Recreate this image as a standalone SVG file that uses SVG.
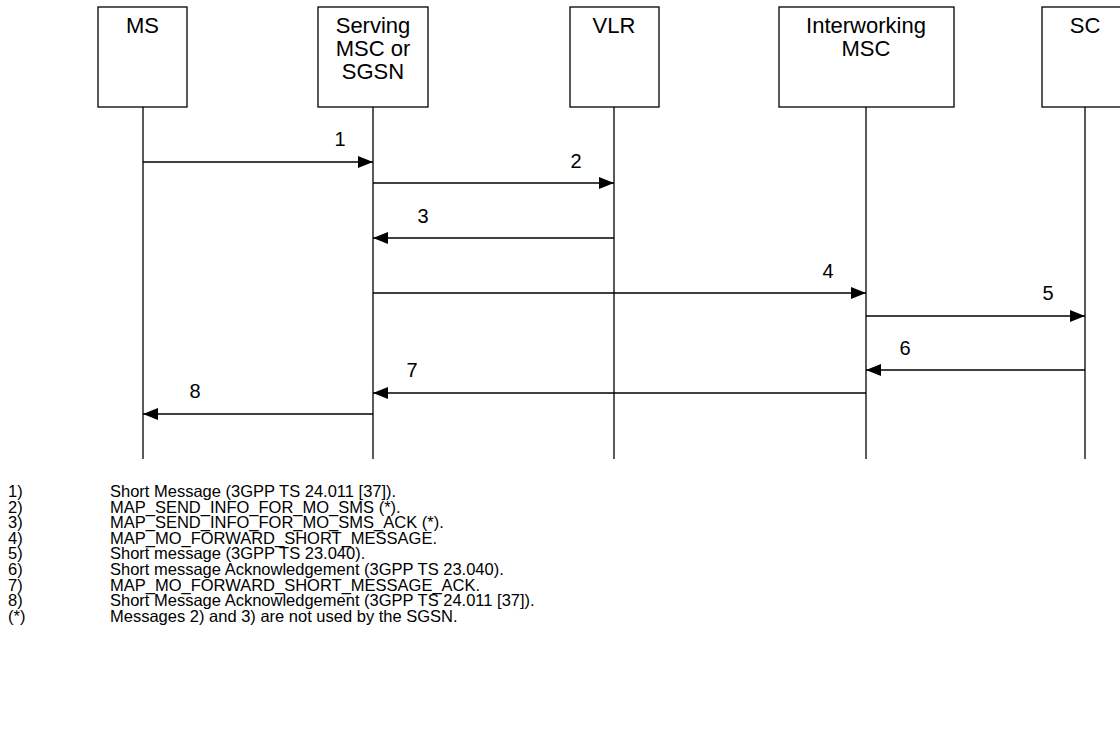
<svg xmlns="http://www.w3.org/2000/svg" width="1120" height="739" viewBox="0 0 1120 739">
<style>
.box{fill:#fff;stroke:#000;stroke-width:1.3}
.life{stroke:#000;stroke-width:1.3;fill:none}
.msg{stroke:#000;stroke-width:1.3;fill:none;marker-end:url(#ah)}
.lbl{font-family:"Liberation Sans",Arial,sans-serif;font-size:22px;fill:#000;text-anchor:middle}
.num{font-family:"Liberation Sans",Arial,sans-serif;font-size:20px;fill:#000;text-anchor:middle}
.lst{font-family:"Liberation Sans",Arial,sans-serif;font-size:16.5px;fill:#000}
</style>
<defs>
<marker id="ah" markerWidth="15" markerHeight="12" refX="15" refY="6" orient="auto" markerUnits="userSpaceOnUse">
<path d="M0,0 L15,6 L0,12 Z" fill="#000"/>
</marker>
</defs>
<rect width="1120" height="739" fill="#fff"/>
<g id="node-ms">
<rect class="box" x="98" y="7" width="89" height="100"/>
<text class="lbl" x="142.5" y="33">MS</text>
<line class="life" x1="143" y1="107" x2="143" y2="459"/>
</g>
<g id="node-serving">
<rect class="box" x="318" y="7" width="110" height="100"/>
<text class="lbl" x="373" y="33">Serving</text>
<text class="lbl" x="373" y="56">MSC or</text>
<text class="lbl" x="373" y="79">SGSN</text>
<line class="life" x1="373" y1="107" x2="373" y2="459"/>
</g>
<g id="node-vlr">
<rect class="box" x="570" y="7" width="89" height="100"/>
<text class="lbl" x="614" y="33">VLR</text>
<line class="life" x1="614" y1="107" x2="614" y2="459"/>
</g>
<g id="node-iwmsc">
<rect class="box" x="779" y="7" width="175" height="100"/>
<text class="lbl" x="866" y="33">Interworking</text>
<text class="lbl" x="866" y="56">MSC</text>
<line class="life" x1="866" y1="107" x2="866" y2="459"/>
</g>
<g id="node-sc">
<rect class="box" x="1042" y="7" width="90" height="100"/>
<text class="lbl" x="1085" y="33">SC</text>
<line class="life" x1="1085" y1="107" x2="1085" y2="459"/>
</g>
<g id="connectors">
<line class="msg" x1="143" y1="162" x2="373" y2="162"/>
<line class="msg" x1="373" y1="183" x2="614" y2="183"/>
<line class="msg" x1="614" y1="238" x2="373" y2="238"/>
<line class="msg" x1="373" y1="293" x2="866" y2="293"/>
<line class="msg" x1="866" y1="316" x2="1085" y2="316"/>
<line class="msg" x1="1085" y1="370" x2="866" y2="370"/>
<line class="msg" x1="866" y1="393" x2="373" y2="393"/>
<line class="msg" x1="373" y1="414" x2="143" y2="414"/>
<text class="num" x="340" y="146">1</text>
<text class="num" x="576" y="168">2</text>
<text class="num" x="423" y="223">3</text>
<text class="num" x="828" y="278">4</text>
<text class="num" x="1048" y="300">5</text>
<text class="num" x="905" y="355">6</text>
<text class="num" x="412" y="377">7</text>
<text class="num" x="195" y="398">8</text>
</g>
<g id="legend">
<text class="lst" x="8" y="497">1)</text><text class="lst" x="110" y="497">Short Message (3GPP TS 24.011 [37]).</text>
<text class="lst" x="8" y="512.6">2)</text><text class="lst" x="110" y="512.6">MAP_SEND_INFO_FOR_MO_SMS (*).</text>
<text class="lst" x="8" y="528.2">3)</text><text class="lst" x="110" y="528.2">MAP_SEND_INFO_FOR_MO_SMS_ACK (*).</text>
<text class="lst" x="8" y="543.8">4)</text><text class="lst" x="110" y="543.8">MAP_MO_FORWARD_SHORT_MESSAGE.</text>
<text class="lst" x="8" y="559.4">5)</text><text class="lst" x="110" y="559.4">Short message (3GPP TS 23.040).</text>
<text class="lst" x="8" y="575">6)</text><text class="lst" x="110" y="575">Short message Acknowledgement (3GPP TS 23.040).</text>
<text class="lst" x="8" y="590.6">7)</text><text class="lst" x="110" y="590.6">MAP_MO_FORWARD_SHORT_MESSAGE_ACK.</text>
<text class="lst" x="8" y="606.2">8)</text><text class="lst" x="110" y="606.2">Short Message Acknowledgement (3GPP TS 24.011 [37]).</text>
<text class="lst" x="8" y="621.8">(*)</text><text class="lst" x="110" y="621.8">Messages 2) and 3) are not used by the SGSN.</text>
</g>
</svg>
